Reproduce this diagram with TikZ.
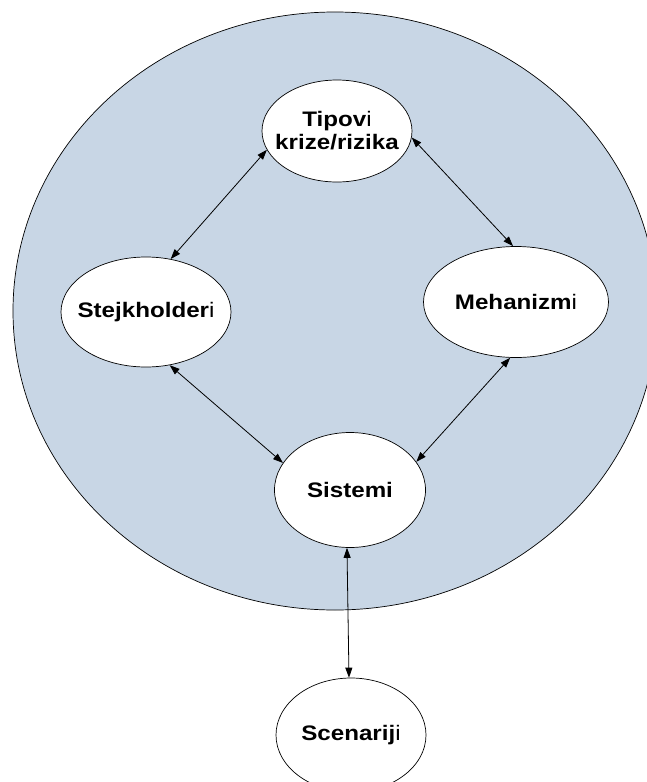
\documentclass[tikz,border=0pt]{standalone}
\usepackage{fontspec}
\setmainfont{Liberation Sans}
\usetikzlibrary{shapes.geometric,arrows.meta}

\definecolor{panel}{RGB}{200,214,229}
% wide bold labels that do not push the ellipse outwards
\newcommand{\wlabel}[1]{\makebox[0pt]{\scalebox{1.15}[1]{#1}}}

\begin{document}
\begin{tikzpicture}[x=1pt,y=-1pt,
    >={Triangle[length=10pt,width=7pt]},
    link/.style={<->,line width=0.8pt}]
\tikzset{every node/.style={shape=ellipse,draw,fill=white,inner sep=0pt,
                            line width=0.7pt,align=center,
                            font=\fontsize{21}{23}\selectfont\bfseries}}
%\tikzset{every node/.style={shape=ellipse,draw,
%                            font=\Large\bfseries,
%                            minimum size=3cm}}
\useasboundingbox (0,0) rectangle (647,782);
\filldraw[fill=panel,draw=black,line width=0.7pt] (335,311) ellipse [x radius=322, y radius=299];

\node[minimum width=150pt,minimum height=102pt] (types) at (337,131)
    {\wlabel{Tipov\textmd{i}}\\ \wlabel{krize/rizika}};
\node[minimum width=170pt,minimum height=110pt] (stake) at (146,312)
    {\wlabel{Stejkholder\textmd{i}}};
\node[minimum width=185pt,minimum height=111pt] (mech) at (516,302)
    {\wlabel{Mehanizm\textmd{i}}};
\node[minimum width=151pt,minimum height=115pt] (sys) at (350,490)
    {\wlabel{Sistemi}};
\node[minimum width=150pt,minimum height=114pt] (scen) at (351,735)
    {\wlabel{Scenarij\textmd{i}}};

\draw[link] (types.195) -- (stake.65);
\draw[link] (types.-5) -- (mech.93);
\draw[link] (stake.-66) -- (sys.158);
\draw[link] (mech.264) -- (sys.23);
\draw[link] (sys.267) -- (scen.92);
\end{tikzpicture}
\end{document}
